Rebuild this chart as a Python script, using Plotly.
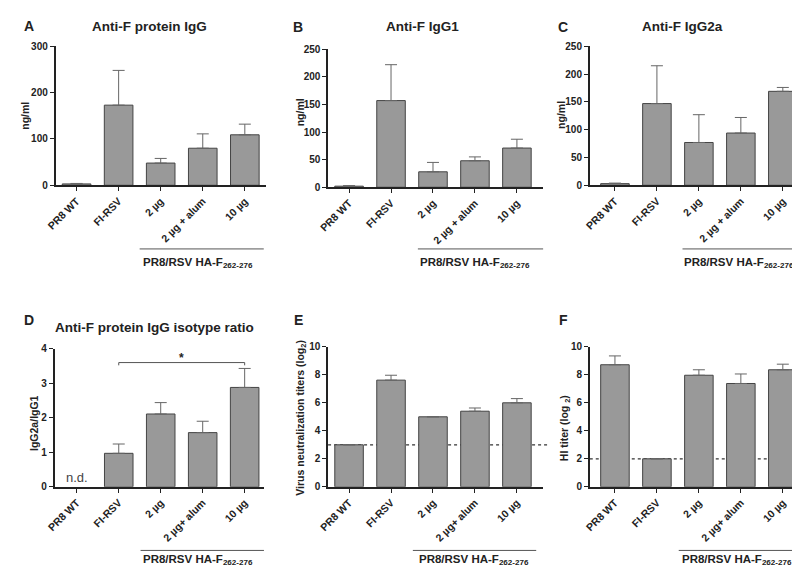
import plotly.graph_objects as go

# ---------------- data ----------------
cats_top = ["PR8 WT", "FI-RSV", "2 µg", "2 µg + alum", "10 µg"]
cats_bot = ["PR8 WT", "FI-RSV", "2 µg", "2 µg+ alum", "10 µg"]

igg_mean = [3, 173, 48, 80, 109]
igg_err = [1, 75, 10, 31, 23]

igg1_mean = [2, 157, 28, 48, 71]
igg1_err = [1, 65, 17, 7, 16]

igg2a_mean = [3, 147, 77, 94, 169]
igg2a_err = [1, 68, 50, 28, 7]

ratio_mean = [None, 0.97, 2.11, 1.57, 2.88]
ratio_err = [None, 0.27, 0.33, 0.33, 0.55]

vn_mean = [3.0, 7.62, 5.0, 5.4, 6.0]
vn_err = [None, 0.35, None, 0.23, 0.3]

hi_mean = [8.72, 2.0, 7.97, 7.38, 8.36]
hi_err = [0.63, None, 0.39, 0.68, 0.4]

W, H = 800, 568
def px(x):
    return x / W
def py(y):
    return 1 - y / H

FONT = "Liberation Sans, Arial, sans-serif"
BAR = "#999999"
EDGE = "#444444"
AXC = "#222222"

panels = [
    dict(letter="A", title="Anti-F protein IgG", ytitle="ng/ml", cats=cats_top,
         mean=igg_mean, err=igg_err, xd=(38, 251), yd=(175, 33), xr=(-0.5, 4.5),
         yr=(0, 300), dt=100, lx=4, ly=12, tx=133, ty=13, ytx=7, yty=104,
         grp=(1.5, 4.45), gy=240, gx=182, gly=254),
    dict(letter="B", title="Anti-F IgG1", ytitle="ng/ml", cats=cats_top,
         mean=igg1_mean, err=igg1_err, xd=(314, 532), yd=(177, 36), xr=(-0.5, 4.63),
         yr=(0, 250), dt=50, lx=276, ly=13, tx=410, ty=13, ytx=285, yty=100,
         grp=(1.64, 4.63), gy=240, gx=463, gly=254),
    dict(letter="C", title="Anti-F IgG2a", ytitle="ng/ml", cats=cats_top,
         mean=igg2a_mean, err=igg2a_err, xd=(579, 800), yd=(175, 33), xr=(-0.6, 4.6),
         yr=(0, 250), dt=50, lx=545, ly=13, tx=673, ty=13, ytx=550, yty=103,
         grp=(1.61, 4.6), gy=240, gx=730, gly=254),
    dict(letter="D", title="Anti-F protein IgG isotype ratio", ytitle="IgG2a/IgG1", cats=cats_bot,
         mean=ratio_mean, err=ratio_err, xd=(37, 249.5), yd=(483, 342), xr=(-0.53, 4.47),
         yr=(0, 4), dt=1, lx=4, ly=313, tx=138, ty=320, ytx=16, yty=418,
         grp=(1.52, 4.46), gy=548, gx=182, gly=558),
    dict(letter="E", title="", ytitle="Virus neutralization titers (log<sub>2</sub>)", cats=cats_bot,
         mean=vn_mean, err=vn_err, xd=(314, 532), yd=(483, 340), xr=(-0.5, 4.63),
         yr=(0, 10), dt=2, lx=277, ly=313, tx=0, ty=0, ytx=287, yty=412,
         grp=(1.52, 4.46), gy=548, gx=462, gly=558),
    dict(letter="F", title="", ytitle="HI titer (log <sub>2</sub>)", cats=cats_bot,
         mean=hi_mean, err=hi_err, xd=(579, 800), yd=(483, 340), xr=(-0.6, 4.6),
         yr=(0, 10), dt=2, lx=546, ly=313, tx=0, ty=0, ytx=554, yty=423,
         grp=(1.52, 4.6), gy=548, gx=728, gly=558),
]

fig = go.Figure()
layout = dict(width=W, height=H, margin=dict(l=0, r=0, t=0, b=0),
              paper_bgcolor="white", plot_bgcolor="rgba(0,0,0,0)",
              showlegend=False, font=dict(family=FONT, color="#222"))
annotations = []
shapes = []

for i, p in enumerate(panels, start=1):
    xa = "x" if i == 1 else f"x{i}"
    ya = "y" if i == 1 else f"y{i}"
    fig.add_trace(go.Bar(
        x=p["cats"], y=p["mean"], xaxis=xa, yaxis=ya,
        marker=dict(color=BAR, line=dict(color=EDGE, width=1)),
        width=0.68,
        error_y=dict(type="data", symmetric=False, array=p["err"],
                     arrayminus=[0] * 5, color="#666666", thickness=1, width=6),
    ))
    layout[f"xaxis{i if i > 1 else ''}"] = dict(
        domain=[px(p["xd"][0]), px(p["xd"][1])], anchor=ya, type="category",
        range=list(p["xr"]), showline=True, linecolor=AXC, linewidth=1.5,
        ticks="outside", ticklen=4, tickcolor=AXC, tickwidth=1.2, tickangle=-45,
        showgrid=False, zeroline=False, fixedrange=True,
        tickfont=dict(family=FONT, size=10.5, color="#222", weight="bold"),
    )
    layout[f"yaxis{i if i > 1 else ''}"] = dict(
        domain=[py(p["yd"][0]), py(p["yd"][1])], anchor=xa,
        range=list(p["yr"]), dtick=p["dt"], tick0=0, showline=True, linecolor=AXC,
        linewidth=1.5, ticks="outside", ticklen=4, tickcolor=AXC, tickwidth=1.2,
        showgrid=False, zeroline=False, fixedrange=True,
        tickfont=dict(family=FONT, size=10, color="#222", weight="bold"),
    )
    annotations.append(dict(text=f"<b>{p['letter']}</b>", x=px(p["lx"]), y=py(p["ly"]),
                            xref="paper", yref="paper", xanchor="left", yanchor="middle",
                            showarrow=False, font=dict(size=14, family=FONT, color="#222")))
    if p["title"]:
        annotations.append(dict(text=f"<b>{p['title']}</b>", x=px(p["tx"]), y=py(p["ty"]),
                                xref="paper", yref="paper", xanchor="center", yanchor="middle",
                                showarrow=False, font=dict(size=13.5, family=FONT, color="#222")))
    annotations.append(dict(text=f"<b>{p['ytitle']}</b>", x=px(p["ytx"]), y=py(p["yty"]),
                            xref="paper", yref="paper", xanchor="center", yanchor="middle",
                            textangle=-90, showarrow=False,
                            font=dict(size=10.5, family=FONT, color="#222")))
    shapes.append(dict(type="line", xref=xa, yref="paper", x0=p["grp"][0], x1=p["grp"][1],
                       y0=py(p["gy"]), y1=py(p["gy"]), line=dict(color="#555", width=1)))
    annotations.append(dict(text="<b>PR8/RSV HA-F<sub>262-276</sub></b>", x=px(p["gx"]),
                            y=py(p["gly"]), xref="paper", yref="paper", xanchor="center",
                            yanchor="middle", showarrow=False,
                            font=dict(size=11.5, family=FONT, color="#222")))

# Panel D extras: n.d. and significance bracket
annotations.append(dict(text="n.d.", x=0, y=0.28, xref="x4", yref="y4", xanchor="center",
                        yanchor="middle", showarrow=False,
                        font=dict(size=13, family=FONT, color="#444")))
shapes.append(dict(type="path", xref="x4", yref="y4",
                   path="M 1,3.52 L 1,3.6 L 4,3.6 L 4,3.52",
                   line=dict(color="#555", width=1)))
annotations.append(dict(text="<b>*</b>", x=2.5, y=3.74, xref="x4", yref="y4",
                        xanchor="center", yanchor="middle", showarrow=False,
                        font=dict(size=12, family=FONT, color="#222")))

# detection-limit dashed lines
shapes.append(dict(type="line", xref="x5 domain", yref="y5", x0=0, x1=1.02, y0=3, y1=3,
                   layer="below", line=dict(color="#333", width=1.3, dash="dot")))
shapes.append(dict(type="line", xref="x6 domain", yref="y6", x0=0, x1=1.0, y0=2, y1=2,
                   layer="below", line=dict(color="#333", width=1.3, dash="dot")))

layout["annotations"] = annotations
layout["shapes"] = shapes
fig.update_layout(**layout)
fig.write_html("out.html")
